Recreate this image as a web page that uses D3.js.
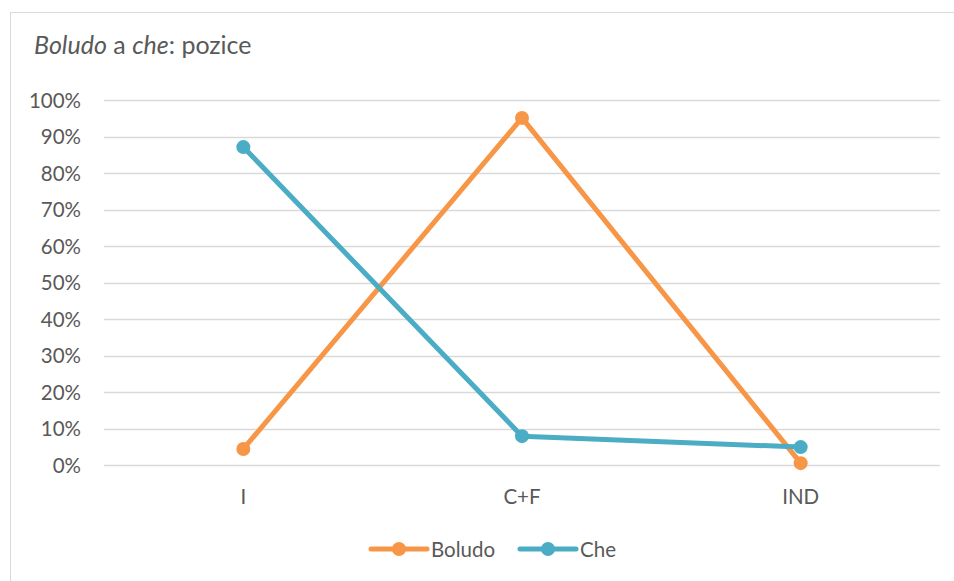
<!DOCTYPE html>
<html>
<head>
<meta charset="utf-8">
<script src="https://cdn.jsdelivr.net/npm/d3@7/dist/d3.min.js"></script>
<style>
  html, body { margin: 0; padding: 0; background: #fff; }
  svg { display: block; }
  text { font-family: Lato, "Open Sans", sans-serif; fill: #595959; }
</style>
</head>
<body>
<svg id="chart" width="954" height="581"></svg>
<script>
// Categories and series (share of occurrences by position)
const categories = ["I", "C+F", "IND"];
const boludo = [0.044, 0.951, 0.005];
const che = [0.871, 0.079, 0.049];
const yTicks = [0, 0.1, 0.2, 0.3, 0.4, 0.5, 0.6, 0.7, 0.8, 0.9, 1.0];

const series = [
  { name: "Boludo", values: boludo, color: "#F79646" },
  { name: "Che", values: che, color: "#4BACC6" }
];

const svg = d3.select("#chart");
const W = 954, H = 581;
const FONT = "Lato, 'Open Sans', sans-serif";
const LABEL_SIZE = 20.5;

// Chart frame
svg.append("rect")
  .attr("x", 10.5).attr("y", 12.5)
  .attr("width", W).attr("height", H)
  .attr("fill", "#fff").attr("stroke", "#d9d9d9").attr("stroke-width", 1);

const plot = { left: 104, right: 940, top: 100, bottom: 465 };

const x = d3.scaleBand().domain(categories).range([plot.left, plot.right]);
const y = d3.scaleLinear().domain([0, 1]).range([plot.bottom, plot.top]);

// Gridlines
svg.append("g")
  .selectAll("line")
  .data(yTicks)
  .join("line")
  .attr("x1", plot.left).attr("x2", plot.right)
  .attr("y1", d => Math.round(y(d)) + 0.5).attr("y2", d => Math.round(y(d)) + 0.5)
  .attr("stroke", "#d9d9d9").attr("stroke-width", 1.3);

// Y axis labels
const yAxis = d3.axisLeft(y).tickValues(yTicks).tickFormat(d3.format(".0%")).tickSize(0).tickPadding(0);
const gy = svg.append("g").attr("transform", `translate(${plot.left - 23},0)`).call(yAxis);
gy.select(".domain").remove();
gy.selectAll("text")
  .attr("font-size", LABEL_SIZE)
  .attr("fill", "#595959")
  .style("font-family", FONT)
  .attr("dy", "0.36em");

// X axis labels
const xAxis = d3.axisBottom(x).tickSize(0).tickPadding(0);
const gx = svg.append("g").attr("transform", `translate(0,${plot.bottom + 39})`).call(xAxis);
gx.select(".domain").remove();
gx.selectAll("text")
  .attr("font-size", LABEL_SIZE)
  .attr("fill", "#595959")
  .style("font-family", FONT)
  .attr("y", 0)
  .attr("dy", 0);

const cx = c => x(c) + x.bandwidth() / 2;

const line = d3.line()
  .x((d, i) => cx(categories[i]))
  .y(d => y(d));

// Series lines and markers
series.forEach(s => {
  svg.append("path")
    .datum(s.values)
    .attr("d", line)
    .attr("fill", "none")
    .attr("stroke", s.color)
    .attr("stroke-width", 5)
    .attr("stroke-linejoin", "round")
    .attr("stroke-linecap", "round");
});
series.forEach(s => {
  svg.append("g")
    .selectAll("circle")
    .data(s.values)
    .join("circle")
    .attr("cx", (d, i) => cx(categories[i]))
    .attr("cy", d => y(d))
    .attr("r", 7)
    .attr("fill", s.color);
});

// Title
const title = svg.append("text")
  .attr("x", 34).attr("y", 54)
  .attr("font-size", 25);
title.append("tspan").attr("font-style", "italic").text("Boludo");
title.append("tspan").text(" a ");
title.append("tspan").attr("font-style", "italic").text("che");
title.append("tspan").text(": pozice");

// Legend
const legendItems = [
  { s: series[0], x0: 371 },
  { s: series[1], x0: 520 }
];
legendItems.forEach(({ s, x0 }) => {
  const g = svg.append("g").attr("transform", `translate(${x0},549)`);
  g.append("line").attr("x1", 0).attr("x2", 56).attr("y1", 0).attr("y2", 0)
    .attr("stroke", s.color).attr("stroke-width", 5).attr("stroke-linecap", "round");
  g.append("circle").attr("cx", 28).attr("cy", 0).attr("r", 7).attr("fill", s.color);
  g.append("text").attr("x", 60).attr("y", 0).attr("dy", "0.38em")
    .attr("font-size", LABEL_SIZE).text(s.name);
});
</script>
</body>
</html>
